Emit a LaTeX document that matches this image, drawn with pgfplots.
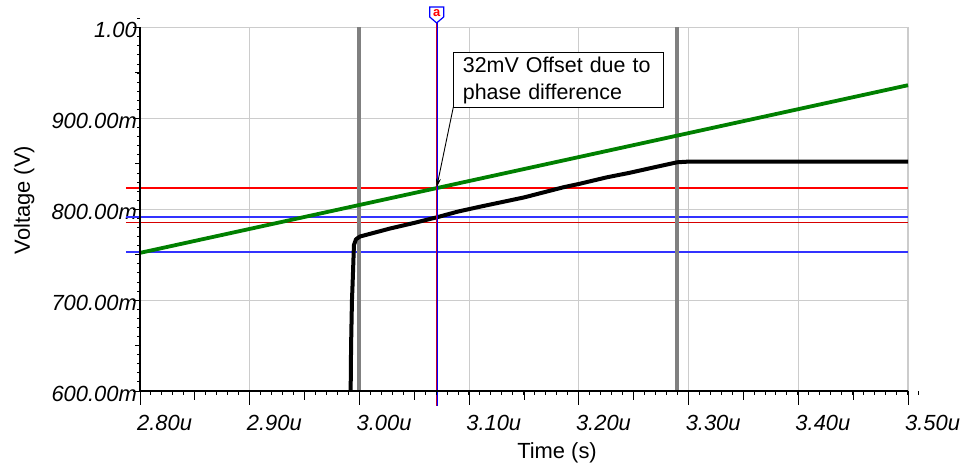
\documentclass[border=0pt]{standalone}
\usepackage{fontspec}
\setmainfont{Liberation Sans}
\usepackage{pgfplots}
\pgfplotsset{compat=1.18}
\usetikzlibrary{arrows.meta}

\definecolor{gridgray}{RGB}{204,204,204}
\definecolor{curgreen}{RGB}{0,128,0}
\definecolor{curgray}{RGB}{128,128,128}
\definecolor{lineredB}{RGB}{215,0,0}
\definecolor{lineblue}{RGB}{50,50,255}
\definecolor{cured}{RGB}{190,0,50}

\begin{document}
\begin{tikzpicture}
\begin{axis}[
  scale only axis, width=768bp, height=363.5bp,
  xmin=2.8, xmax=3.5, ymin=0.6, ymax=1.0,
  axis line style={draw=none},
  xtick={2.8,2.9,3.0,3.1,3.2,3.3,3.4,3.5},
  xticklabels={2.80u,2.90u,3.00u,3.10u,3.20u,3.30u,3.40u,3.50u},
  ytick={0.6,0.7,0.8,0.9,1.0},
  yticklabels={600.00m,700.00m,800.00m,900.00m,1.00},
  major tick length=0pt, minor tick length=0pt,
  grid=major, major grid style={draw=gridgray, line width=1.2bp},
  xticklabel style={anchor=north west, inner sep=0pt, xshift=-3bp, yshift=-24bp, font=\fontsize{22}{24}\selectfont\itshape},
  yticklabel style={anchor=east, inner sep=0pt, xshift=-3bp, yshift=-2.5bp, font=\fontsize{22}{24}\selectfont\itshape},
  clip=false,
]
% bounding box
\path (rel axis cs:-0.182292,-0.206327) rectangle (rel axis cs:1.072917,1.075653);

% horizontal cursor lines
\addplot[draw=lineredB, line width=1.2bp, forget plot] coordinates {(2.7872,0.785) (3.5,0.785)};
\addplot[draw=lineblue, line width=1.7bp, forget plot] coordinates {(2.7872,0.7915) (3.5,0.7915)};
\addplot[draw=lineblue, line width=1.5bp, forget plot] coordinates {(2.7872,0.753) (3.5,0.753)};
\addplot[draw=red, line width=1.4bp, forget plot] coordinates {(2.7872,0.8236) (3.5,0.8236)};

% grey vertical markers
\addplot[draw=curgray, line width=3.6bp, forget plot] coordinates {(2.9995,0.6) (2.9995,1.0)};
\addplot[draw=curgray, line width=3.6bp, forget plot] coordinates {(3.2897,0.6) (3.2897,1.0)};

% green signal
\addplot[draw=curgreen, line width=3.8bp, forget plot] coordinates {(2.80,0.752) (3.50,0.9365)};

% black signal
\addplot[draw=black, line width=4bp, line join=round, forget plot] coordinates {
 (2.9920,0.600) (2.9924,0.6506) (2.9932,0.700) (2.9939,0.7222)
 (2.9950,0.7607) (2.9969,0.767) (3.0005,0.770) (3.0279,0.7788)
 (3.0500,0.7850) (3.0704,0.7911) (3.0900,0.7975) (3.1099,0.8028)
 (3.1500,0.8130) (3.1856,0.8241) (3.2010,0.8281) (3.2250,0.8350)
 (3.2466,0.8402) (3.2700,0.8465) (3.2897,0.8517) (3.2983,0.8523)
 (3.50,0.8523)};

% cursor vertical
\addplot[draw=blue, line width=2.2bp, forget plot] coordinates {(3.0704,0.5835) (3.0704,1.005)};
\addplot[draw=cured, line width=1.1bp, forget plot] coordinates {(3.0704,0.5835) (3.0704,1.005)};

% cursor head
\draw[blue, line width=1.2bp, fill=white] (axis cs:3.0704,1.005) -- ++(-7bp,6bp) -- ++(0bp,10bp) -- ++(14bp,0bp) -- ++(0bp,-10bp) -- cycle;
\node[text=red, font=\fontsize{13}{13}\selectfont\bfseries, inner sep=0pt] at ([yshift=9.5bp]axis cs:3.0704,1.005) {a};

% axis lines
\draw[black, line width=1.2bp] (axis cs:2.8,1.0) -- (axis cs:2.8,0.6) -- (axis cs:3.5,0.6);

% x ticks
\pgfplotsinvokeforeach{2.80,2.81,...,3.505}{\draw[black, line width=1bp] (axis cs:#1,0.6) -- ++(0bp,-4bp);}
\pgfplotsinvokeforeach{2.85,2.95,3.05,3.15,3.25,3.35,3.45}{\draw[black, line width=1bp] (axis cs:#1,0.6) -- ++(0bp,-9bp);}
\pgfplotsinvokeforeach{2.8,2.9,3.0,3.1,3.2,3.3,3.4,3.5}{\draw[black, line width=1bp] (axis cs:#1,0.6) -- ++(0bp,-14bp);}
% y ticks
\pgfplotsinvokeforeach{0.60,0.61,...,1.005}{\draw[black, line width=1bp] (axis cs:2.8,#1) -- ++(-3bp,0bp);}
\pgfplotsinvokeforeach{0.65,0.75,0.85,0.95}{\draw[black, line width=1bp] (axis cs:2.8,#1) -- ++(-5bp,0bp);}
\pgfplotsinvokeforeach{0.6,0.7,0.8,0.9,1.0}{\draw[black, line width=1bp] (axis cs:2.8,#1) -- ++(-7bp,0bp);}

% annotation
\node[draw=black, line width=1bp, fill=white, anchor=north west, inner xsep=9bp, inner ysep=0pt,
  minimum height=55bp, text width=192bp, align=left,
  font=\fontsize{21.5}{26.7}\selectfont] at (axis cs:3.0856,0.9727)
  {32mV Offset due to\\phase difference};
\draw[black, line width=0.9bp, -{Stealth[length=9bp,width=5bp]}] (axis cs:3.0856,0.9125) -- (axis cs:3.0704,0.8241);

% axis labels
\node[rotate=90, anchor=base, font=\fontsize{22}{24}\selectfont] at (rel axis cs:-0.1435,0.525) {Voltage (V)};
\node[anchor=base, font=\fontsize{22}{24}\selectfont] at (rel axis cs:0.543,-0.187) {Time (s)};
\end{axis}
\end{tikzpicture}
\end{document}
